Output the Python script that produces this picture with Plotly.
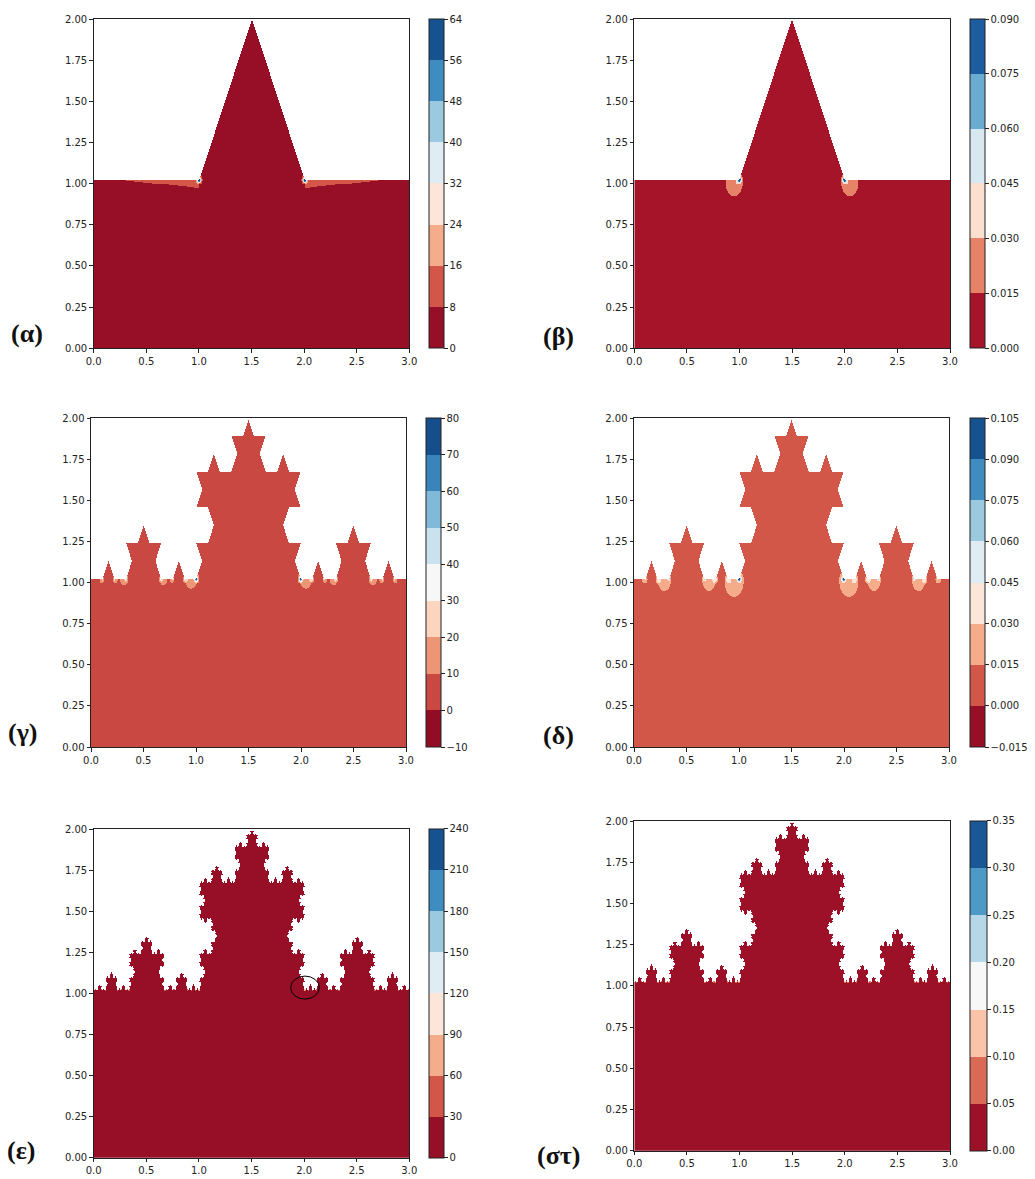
import numpy as np
import plotly.graph_objects as go

W, H = 1035, 1179

# ---------------- data ----------------
panel_labels = ["(α)", "(β)", "(γ)", "(δ)", "(ε)", "(στ)"]
koch_depth = [1, 1, 3, 3, 5, 5]
baseline_y = 1.025
apex_y = 2.0
x_ticks = [0.0, 0.5, 1.0, 1.5, 2.0, 2.5, 3.0]
y_ticks = [0.0, 0.25, 0.5, 0.75, 1.0, 1.25, 1.5, 1.75, 2.0]

cbar_a = [0, 8, 16, 24, 32, 40, 48, 56, 64]
cbar_b = [0.000, 0.015, 0.030, 0.045, 0.060, 0.075, 0.090]
cbar_g = [-10, 0, 10, 20, 30, 40, 50, 60, 70, 80]
cbar_d = [-0.015, 0.000, 0.015, 0.030, 0.045, 0.060, 0.075, 0.090, 0.105]
cbar_e = [0, 30, 60, 90, 120, 150, 180, 210, 240]
cbar_s = [0.00, 0.05, 0.10, 0.15, 0.20, 0.25, 0.30, 0.35]
cbar_levels = [cbar_a, cbar_b, cbar_g, cbar_d, cbar_e, cbar_s]
cbar_fmt = ["{:.0f}", "{:.3f}", "{:.0f}", "{:.3f}", "{:.0f}", "{:.2f}"]

# field: background value and re-entrant-corner peaks per Koch level
field_base = [3.0, 0.004, 5.0, 0.007, 10.0, 0.02]
peak_amp_a = [150.0]
peak_amp_b = [0.20]
peak_amp_g = [170.0, 60.0, 30.0]
peak_amp_d = [0.22, 0.08, 0.035]
peak_amp_e = [140.0, 80.0, 60.0, 50.0, 40.0]
peak_amp_s = [0.20, 0.12, 0.10, 0.08, 0.07]
peak_amps = [peak_amp_a, peak_amp_b, peak_amp_g, peak_amp_d, peak_amp_e, peak_amp_s]
halo_amp_a = [0.0]
halo_amp_b = [0.022]
halo_amp_g = [10.0, 10.0, 10.0]
halo_amp_d = [0.016, 0.016, 0.016]
halo_amp_e = [0.0, 0.0, 0.0, 0.0, 0.0]
halo_amp_s = [0.0, 0.0, 0.0, 0.0, 0.0]
halo_amps = [halo_amp_a, halo_amp_b, halo_amp_g, halo_amp_d, halo_amp_e, halo_amp_s]
strip_amp = [10.0, 0.0, 0.0, 0.0, 0.0, 0.0]

# ---------------- field shape parameters ----------------
peak_decay = [[0.009], [0.009], [0.008, 0.007, 0.006], [0.008, 0.007, 0.006],
              [0.004] * 5, [0.004] * 5]
halo_radius = [[0.0], [0.08], [0.055, 0.035, 0.02], [0.09, 0.06, 0.025],
               [0.0] * 5, [0.0] * 5]
halo_shift = [[(0, 0)], [(0.05, 0.025)], [(0.05, 0.01), (0.02, 0.01), (0.01, 0.005)],
              [(0.05, 0.025), (0.045, 0.02), (0.01, 0.005)],
              [(0, 0)] * 5, [(0, 0)] * 5]
strip_len, strip_dep = 1.5, 0.11

# ---------------- layout geometry (pixels) ----------------
axes_px = [(93.7, 409.3, 19, 348.3), (634.3, 950, 19, 348.3),
           (91, 406, 418, 747), (634, 949, 418, 747),
           (93.7, 409.3, 829, 1157.7), (634.3, 950, 821, 1150.7)]
cbar_px = [429, 970, 426, 970, 429, 970]
cbar_w = [15, 15, 15, 15, 15, 17]
label_px = [(27, 333), (558, 336), (22, 733), (558, 735), (21, 1150), (558, 1155)]
highlight_e = [1.872, 2.145, 0.965, 1.105]

RDBU = ["#67001f", "#b2182b", "#d6604d", "#f4a582", "#fddbc7", "#f7f7f7",
        "#d1e5f0", "#92c5de", "#4393c3", "#2166ac", "#053061"]


def rdbu(t):
    pos = min(max(t, 0), 1) * 10
    i = min(int(pos), 9)
    f = pos - i
    c0 = [int(RDBU[i][k:k + 2], 16) for k in (1, 3, 5)]
    c1 = [int(RDBU[i + 1][k:k + 2], 16) for k in (1, 3, 5)]
    c = [round(a + (b - a) * f) for a, b in zip(c0, c1)]
    return "rgb(%d,%d,%d)" % tuple(c)


def koch_curve(depth):
    s3 = np.sqrt(3) / 2
    pts = [(0.0, 0.0), (3.0, 0.0)]
    corners = []
    for lev in range(1, depth + 1):
        new = [pts[0]]
        for (px_, py_), (qx, qy) in zip(pts[:-1], pts[1:]):
            dx, dy = (qx - px_) / 3, (qy - py_) / 3
            ax, ay = px_ + dx, py_ + dy
            bx, by = px_ + 2 * dx, py_ + 2 * dy
            cx = ax + 0.5 * dx - s3 * dy
            cy = ay + s3 * dx + 0.5 * dy
            new += [(ax, ay), (cx, cy), (bx, by), (qx, qy)]
            if abs(py_) < 1e-12 and abs(qy) < 1e-12:
                corners.append((ax, lev, -1))
                corners.append((bx, lev, 1))
        pts = new
    pts = np.array(pts)
    scale = (apex_y - baseline_y) / s3
    return pts[:, 0], baseline_y + pts[:, 1] * scale, corners


def inside(xc, yc, xs, ys):
    X1, Y1 = xs, ys
    X2, Y2 = np.roll(xs, -1), np.roll(ys, -1)
    m = np.zeros((len(yc), len(xc)), bool)
    for j, yv in enumerate(yc):
        c = (Y1 > yv) != (Y2 > yv)
        xi = X1[c] + (yv - Y1[c]) * (X2[c] - X1[c]) / (Y2[c] - Y1[c])
        xi.sort()
        cnt = len(xi) - np.searchsorted(xi, xc, side="right")
        m[j] = cnt % 2 == 1
    return m


nx, ny = 316, 330
xc = (np.arange(nx) + 0.5) * 3.0 / nx
yc = (np.arange(ny) + 0.5) * 2.0 / ny
XX, YY = np.meshgrid(xc, yc)
b = baseline_y

fig = go.Figure()
axis_font = dict(family="DejaVu Sans", size=10, color="#222")

for p in range(6):
    kx, ky, corners = koch_curve(koch_depth[p])
    px_poly = np.concatenate([kx, [3.0, 0.0]])
    py_poly = np.concatenate([ky, [0.0, 0.0]])
    mask = inside(xc, yc, px_poly, py_poly)

    z = np.full(XX.shape, field_base[p])
    for (cx, lev, sgn) in corners:
        L = lev - 1
        d = np.hypot(XX - cx, YY - b)
        z += peak_amps[p][L] * np.exp(-d / peak_decay[p][L])
        if halo_amps[p][L] > 0:
            hx = cx + sgn * halo_shift[p][L][0]
            hy = b - halo_shift[p][L][1]
            r = np.hypot(XX - hx, YY - hy)
            z += halo_amps[p][L] * np.exp(-np.log(2) * (r / halo_radius[p][L]) ** 4)
        if lev == 1 and strip_amp[p] > 0:
            out = sgn * (XX - cx)
            depth = np.clip(b - YY, 0, None)
            z += strip_amp[p] * np.clip(1 - out / strip_len - depth / strip_dep, 0, None) * (out >= 0)

    levels = cbar_levels[p]
    lev0, step, N = levels[0], levels[1] - levels[0], len(levels) - 1
    k = np.clip(np.floor((z - lev0) / step), 0, N - 1)
    zq = np.round(lev0 + (k + 0.5) * step, 6)
    zo = zq.astype(object)
    zo[~mask] = None

    cs = []
    for i in range(N):
        col = rdbu((i + 0.5) / N)
        cs.append([i / N, col])
        cs.append([(i + 1) / N, col])

    x0, x1, y0, y1 = axes_px[p]
    sfx = "" if p == 0 else str(p + 1)
    ticktext = [cbar_fmt[p].format(v).replace("-", "\u2212") for v in levels]
    fig.add_trace(go.Heatmap(
        x=xc, y=yc, z=zo.tolist(), zmin=lev0, zmax=levels[-1],
        colorscale=cs, zsmooth=False, hoverinfo="skip",
        xaxis="x" + sfx, yaxis="y" + sfx,
        colorbar=dict(x=cbar_px[p] / W, xanchor="left", xpad=0, ypad=0,
                      y=1 - (y0 + y1) / 2 / H, yanchor="middle",
                      len=(y1 - y0) / H, lenmode="fraction",
                      thickness=cbar_w[p], thicknessmode="pixels",
                      outlinewidth=1, outlinecolor="#222",
                      tickvals=levels, ticktext=ticktext,
                      ticks="outside", ticklen=3.5, tickwidth=0.8, tickcolor="#222",
                      tickfont=axis_font),
    ))

    common = dict(showgrid=False, zeroline=False, showline=True, mirror=True,
                  linecolor="#222", linewidth=1, ticks="outside", ticklen=3.5,
                  tickwidth=0.8, tickcolor="#222", tickfont=axis_font)
    fig.layout["xaxis" + sfx] = dict(domain=[x0 / W, x1 / W], range=[0, 3],
                                     tickvals=x_ticks, tickformat=".1f",
                                     anchor="y" + sfx, **common)
    fig.layout["yaxis" + sfx] = dict(domain=[1 - y1 / H, 1 - y0 / H], range=[0, 2],
                                     tickvals=y_ticks, tickformat=".2f",
                                     anchor="x" + sfx, **common)
    lx, ly = label_px[p]
    fig.add_annotation(text="<b>" + panel_labels[p] + "</b>", x=lx / W, y=1 - ly / H,
                       xref="paper", yref="paper", xanchor="center", yanchor="middle",
                       showarrow=False,
                       font=dict(family="Liberation Serif", size=26, color="#111"))

fig.add_shape(type="circle", xref="x5", yref="y5",
              x0=highlight_e[0], x1=highlight_e[1], y0=highlight_e[2], y1=highlight_e[3],
              line=dict(color="black", width=1))

fig.update_layout(width=W, height=H,
                  margin=dict(l=0, r=0, t=0, b=0, pad=0, autoexpand=False),
                  paper_bgcolor="white", plot_bgcolor="white", showlegend=False)

fig.write_html("out.html", config={"displayModeBar": False},
               post_script="document.body.style.margin='0';document.body.style.overflow='hidden';")
